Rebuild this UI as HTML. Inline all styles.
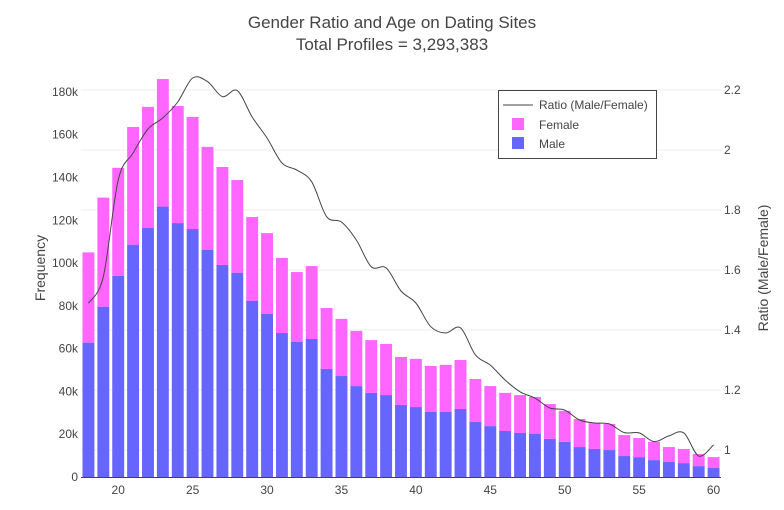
<!DOCTYPE html>
<html><head><meta charset="utf-8"><style>
body{margin:0;background:#fff;}
svg{display:block;font-family:"Liberation Sans",sans-serif;}
</style></head><body>
<svg id="chart" width="784" height="510">
<text x="392" y="28" text-anchor="middle" font-size="17" fill="#444">Gender Ratio and Age on Dating Sites</text>
<text x="392" y="50" text-anchor="middle" font-size="17" fill="#444">Total Profiles = 3,293,383</text>
<g id="grid"></g><g id="bars"></g><g id="line"></g><g id="axes"></g>
<text transform="translate(45,268) rotate(-90)" text-anchor="middle" font-size="14" fill="#444">Frequency</text>
<text transform="translate(768,268) rotate(-90)" text-anchor="middle" font-size="14" fill="#444">Ratio (Male/Female)</text>
<g>
<rect x="498.5" y="90.5" width="158" height="68" fill="#fff" stroke="#444" stroke-width="1"/>
<g><line x1="503" y1="105" x2="533" y2="105" stroke="#444" stroke-width="1"/><text x="539" y="109" font-size="12" fill="#444">Ratio (Male/Female)</text></g>
<g><rect x="512" y="118" width="12" height="12" fill="#ff66ff"/><text x="539" y="129" font-size="12" fill="#444">Female</text></g>
<g><rect x="512" y="137" width="12" height="12" fill="#6666ff"/><text x="539" y="148" font-size="12" fill="#444">Male</text></g>
</g>
</svg>
<script>
const ages=[18,19,20,21,22,23,24,25,26,27,28,29,30,31,32,33,34,35,36,37,38,39,40,41,42,43,44,45,46,47,48,49,50,51,52,53,54,55,56,57,58,59,60];
const totalK=[105,130.6,144.5,163.6,173,186,173.4,168.3,154.3,144.9,138.8,121.5,114,102.4,95.8,98.6,79,73.9,68.3,64,62.2,56.1,55.2,51.9,52.4,54.7,45.8,42.5,39.3,38.3,37.4,34.1,30.9,27.1,25.2,24.8,19.6,18.2,16.4,14,13.1,10.8,9.3];
const maleK=[62.8,79.6,94,108.6,116.4,126.4,118.7,115.9,106.1,99.1,95.5,82.4,76.2,67.3,63.1,64.5,50.5,47.2,42.5,39.3,38.3,33.7,32.7,30.4,30.4,31.8,25.7,23.8,21.5,20.6,20.1,17.8,16.4,14,13.1,12.6,9.8,9.3,7.9,7,6.5,5.1,4.2];
const ratio=[1.489,1.578,1.9,1.99,2.07,2.107,2.16,2.24,2.228,2.178,2.198,2.11,2.04,1.957,1.933,1.894,1.778,1.76,1.7,1.611,1.607,1.53,1.49,1.411,1.39,1.407,1.317,1.283,1.233,1.194,1.173,1.14,1.133,1.1,1.09,1.087,1.058,1.057,1.028,1.047,1.057,0.98,1.017];
const xTicks=[20,25,30,35,40,45,50,55,60];
const yTicks=[0,20,40,60,80,100,120,140,160,180];
const y2Ticks=[1,1.2,1.4,1.6,1.8,2,2.2];
const NS="http://www.w3.org/2000/svg";
const L=81,R=721,T=72,B=477;
const x=a=>L+(a-17.5)/(60.5-17.5)*(R-L);
const y=v=>B-v/189.3*(B-T);
const y2=r=>B-(r-0.91)/(2.26-0.91)*(B-T);
const bw=(x(1)-x(0))*0.8;
function mk(tag,at,parent){const e=document.createElementNS(NS,tag);for(const k in at)e.setAttribute(k,at[k]);document.getElementById(parent).appendChild(e);return e;}
y2Ticks.forEach(t=>{
 const g=mk('line',{x1:L,x2:R,y1:y2(t),y2:y2(t),stroke:'#eee','stroke-width':1},'grid');
 
 
 const tx=mk('text',{x:R+3,y:y2(t)+4,'font-size':12,fill:'#444'},'axes');tx.textContent=String(t);
 
 
});
yTicks.forEach(t=>{
 const tx=mk('text',{x:L-3,y:y(t)+4,'font-size':12,fill:'#444','text-anchor':'end'},'axes');tx.textContent=t===0?'0':t+'k';
 
 
});
xTicks.forEach(t=>{
 const tx=mk('text',{x:x(t),y:494,'font-size':12,fill:'#444','text-anchor':'middle'},'axes');tx.textContent=String(t);
 
 
});
ages.forEach((a,i)=>{
 const m=mk('rect',{x:x(a)-bw/2,width:bw,y:y(maleK[i]),height:B-y(maleK[i]),fill:'#6666ff'},'bars');
 
 
 const f=mk('rect',{x:x(a)-bw/2,width:bw,y:y(totalK[i]),height:y(maleK[i])-y(totalK[i]),fill:'#ff66ff'},'bars');
 
 
});
const pts=ages.map((a,i)=>[x(a),y2(ratio[i])]);
let d='M'+pts[0][0]+','+pts[0][1];
for(let i=0;i<pts.length-1;i++){
 const p0=pts[Math.max(0,i-1)],p1=pts[i],p2=pts[i+1],p3=pts[Math.min(pts.length-1,i+2)];
 const c1=[p1[0]+(p2[0]-p0[0])/6,p1[1]+(p2[1]-p0[1])/6],c2=[p2[0]-(p3[0]-p1[0])/6,p2[1]-(p3[1]-p1[1])/6];
 d+=' C'+c1+' '+c2+' '+p2;
}
const ln=mk('path',{d:d,fill:'none',stroke:'#444','stroke-width':1},'line');


const ax=mk('line',{x1:L,x2:R,y1:B+0.5,y2:B+0.5,stroke:'#444','stroke-width':1},'axes');


</script>
</body></html>
